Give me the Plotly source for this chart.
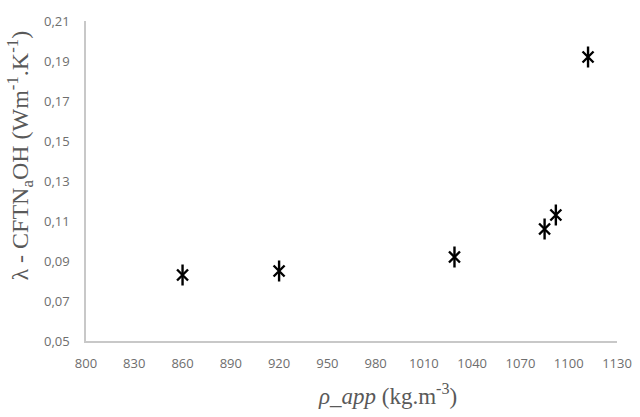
import plotly.graph_objects as go

density = [860, 920, 1029, 1085, 1092, 1112]
conductivity = [0.083, 0.085, 0.092, 0.106, 0.113, 0.192]

x_ticks = list(range(800, 1131, 30))
y_ticks = [0.05, 0.07, 0.09, 0.11, 0.13, 0.15, 0.17, 0.19, 0.21]

x_title = "<i>ρ_app</i> (kg.m<sup>-3</sup>)"
y_title = "λ - CFTN<sub>a</sub>OH (Wm<sup>-1</sup>.K<sup>-1</sup>)"

fig = go.Figure()
fig.add_trace(go.Scatter(x=density, y=conductivity, mode="markers",
                         marker=dict(symbol="x-thin-open", size=11, color="black",
                                     line=dict(color="black", width=2.4)),
                         showlegend=False, hoverinfo="skip"))
fig.add_trace(go.Scatter(x=density, y=conductivity, mode="markers",
                         marker=dict(symbol="line-ns-open", size=15, color="black",
                                     line=dict(color="black", width=2.4)),
                         showlegend=False))

axis_font = dict(family="Open Sans, Noto Sans, sans-serif", size=13, color="#6e6e6e")
title_font_x = dict(family="Liberation Serif, Times New Roman, serif", size=23, color="#595959")
title_font_y = dict(family="Liberation Serif, Times New Roman, serif", size=24, color="#595959")

fig.update_layout(
    width=640, height=417,
    margin=dict(l=86, r=23, t=21, b=76),
    paper_bgcolor="white", plot_bgcolor="white",
    separators=", ",
    xaxis=dict(range=[800, 1130], tickvals=x_ticks, showgrid=False, zeroline=False,
               showline=True, linecolor="#c8c8c8", linewidth=1.5, automargin=False,
               ticks="outside", ticklen=10, tickcolor="rgba(0,0,0,0)",
               tickfont=axis_font),
    yaxis=dict(range=[0.05, 0.21], tickvals=y_ticks, tickformat=".2f", showgrid=False,
               zeroline=False, showline=True, linecolor="#c8c8c8", linewidth=1.5,
               automargin=False,
               ticks="outside", ticklen=12, tickcolor="rgba(0,0,0,0)",
               tickfont=axis_font),
    annotations=[
        dict(text=x_title, font=title_font_x, xref="paper", yref="paper",
             x=0.567, y=-0.168, xanchor="center", yanchor="middle", showarrow=False),
        dict(text=y_title, font=title_font_y, xref="paper", yref="paper",
             x=-0.124, y=0.58, xanchor="center", yanchor="middle", textangle=-90,
             showarrow=False),
    ],
)

fig.write_html("out.html", config={"displayModeBar": False},
               post_script="document.body.style.margin='0';document.body.style.padding='0';")
